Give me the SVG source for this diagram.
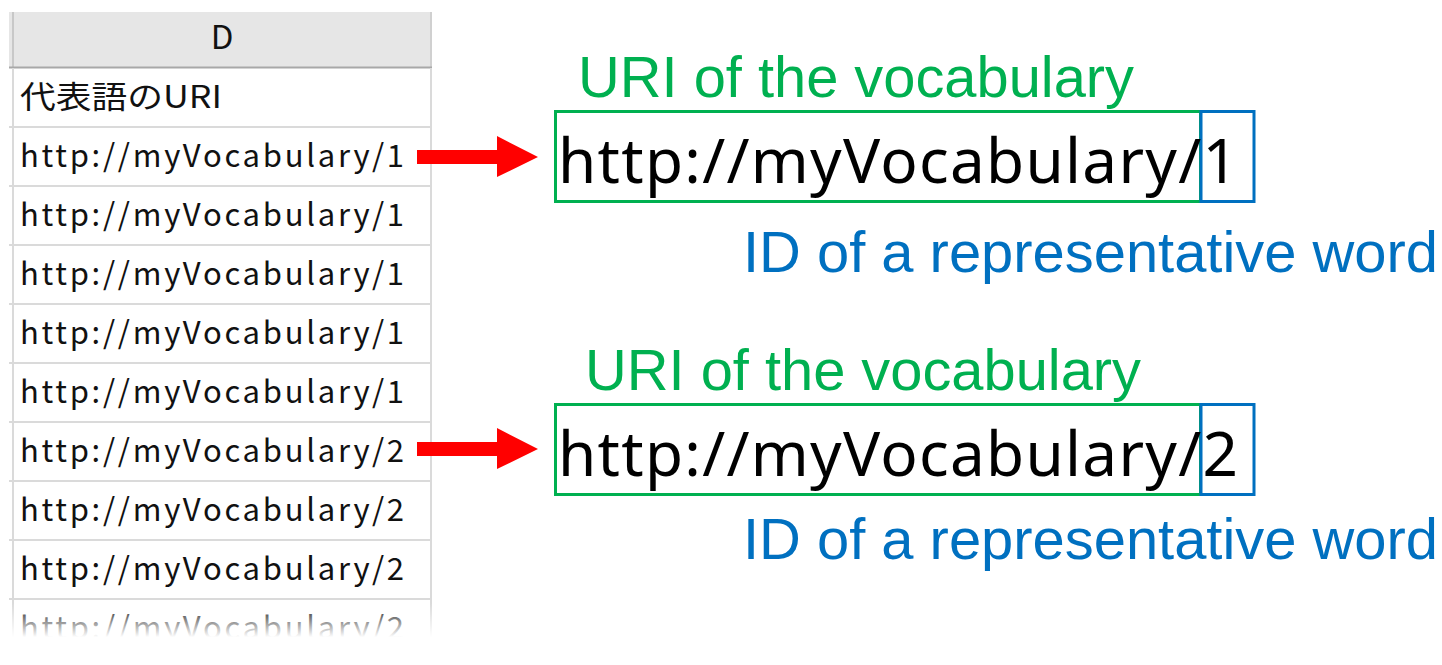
<svg xmlns="http://www.w3.org/2000/svg" width="1442" height="665" viewBox="0 0 1442 665">
<defs>
<style>
.cell{font-family:"Noto Sans CJK JP","Noto Sans",sans-serif;font-size:31px;fill:#111}
.grid{stroke:#dadada;stroke-width:2;fill:none}
.big{font-family:"Noto Sans","Open Sans",sans-serif;font-size:62px;fill:#000}
.green{font-family:"Liberation Sans",Arial,sans-serif;font-size:58px;fill:#00b050}
.blue{font-family:"Liberation Sans",Arial,sans-serif;font-size:57px;fill:#0070c0}
.gbox{fill:none;stroke:#00b050;stroke-width:3}
.bbox{fill:none;stroke:#0070c0;stroke-width:3}
.arrow{fill:#ff0000}
</style>
<linearGradient id="fade" x1="0" y1="0" x2="0" y2="1">
<stop offset="0" stop-color="#fff" stop-opacity="0"/>
<stop offset="0.55" stop-color="#fff" stop-opacity="1"/>
<stop offset="1" stop-color="#fff" stop-opacity="1"/>
</linearGradient>
</defs>
<rect width="1442" height="665" fill="#fff"/>
<g id="table">
<rect x="9" y="12" width="423" height="55" fill="#e6e6e6"/>
<line x1="13" y1="12" x2="13" y2="67" stroke="#c8c8c8" stroke-width="2"/>
<line x1="431" y1="12" x2="431" y2="67" stroke="#d0d0d0" stroke-width="2"/>
<line x1="9" y1="67.5" x2="432" y2="67.5" stroke="#a8a8a8" stroke-width="2"/>
<text x="222" y="49" text-anchor="middle" font-family="'Noto Sans CJK JP','Noto Sans',sans-serif" font-size="33" fill="#111">D</text>
<path class="grid" d="M13 68V645M431 68V645M9 127H432M9 186H432M9 245H432M9 304H432M9 363H432M9 422H432M9 481H432M9 540H432M9 599H432"/>
<text class="cell" x="20" y="108" textLength="202" lengthAdjust="spacingAndGlyphs">代表語のURI</text>
<text class="cell" x="20" y="167" textLength="384" lengthAdjust="spacing">http://myVocabulary/1</text>
<text class="cell" x="20" y="226" textLength="384" lengthAdjust="spacing">http://myVocabulary/1</text>
<text class="cell" x="20" y="285" textLength="384" lengthAdjust="spacing">http://myVocabulary/1</text>
<text class="cell" x="20" y="344" textLength="384" lengthAdjust="spacing">http://myVocabulary/1</text>
<text class="cell" x="20" y="403" textLength="384" lengthAdjust="spacing">http://myVocabulary/1</text>
<text class="cell" x="20" y="462" textLength="384" lengthAdjust="spacing">http://myVocabulary/2</text>
<text class="cell" x="20" y="521" textLength="384" lengthAdjust="spacing">http://myVocabulary/2</text>
<text class="cell" x="20" y="580" textLength="384" lengthAdjust="spacing">http://myVocabulary/2</text>
<text class="cell" x="20" y="639" textLength="384" lengthAdjust="spacing">http://myVocabulary/2</text>
<rect x="0" y="603" width="440" height="62" fill="url(#fade)"/>
</g>
<g id="connectors">
<polygon class="arrow" points="417,150 497,150 497,136 538,157 497,177 497,164 417,164"/>
<polygon class="arrow" points="417,442 497,442 497,428 538,449 497,469 497,456 417,456"/>
</g>
<g id="uri1">
<text class="green" x="578" y="97" textLength="556" lengthAdjust="spacingAndGlyphs">URI of the vocabulary</text>
<rect class="gbox" x="555.5" y="111.5" width="645" height="90"/>
<rect class="bbox" x="1201" y="111.5" width="53" height="90"/>
<text class="big" x="558" y="183" textLength="680" lengthAdjust="spacing">http://myVocabulary/1</text>
<text class="blue" x="743" y="272" textLength="695" lengthAdjust="spacingAndGlyphs">ID of a representative word</text>
</g>
<g id="uri2">
<text class="green" x="585" y="390" textLength="556" lengthAdjust="spacingAndGlyphs">URI of the vocabulary</text>
<rect class="gbox" x="555.5" y="404.5" width="645" height="90"/>
<rect class="bbox" x="1201" y="404.5" width="53" height="90"/>
<text class="big" x="558" y="476" textLength="680" lengthAdjust="spacing">http://myVocabulary/2</text>
<text class="blue" x="743" y="559" textLength="695" lengthAdjust="spacingAndGlyphs">ID of a representative word</text>
</g>
</svg>
